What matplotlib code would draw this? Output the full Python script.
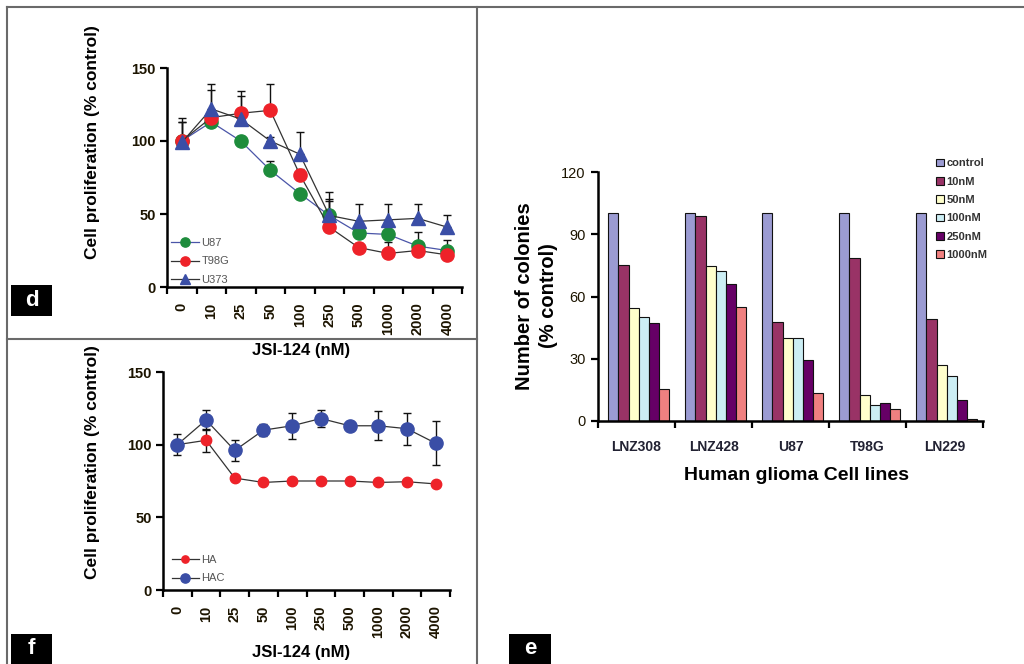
import matplotlib
matplotlib.use('Agg')
import matplotlib.pyplot as plt
from matplotlib.lines import Line2D
from matplotlib.patches import Rectangle
import numpy as np

plt.rcParams['font.family'] = ['Liberation Sans', 'DejaVu Sans']

# ---------------- data ----------------
conc = ['0', '10', '25', '50', '100', '250', '500', '1000', '2000', '4000']

u87 = [100, 113, 100, 80, 64, 49, 37, 36, 28, 25]
u87_err = [13, 3, 3, 6, 3, 11, 4, 4, 10, 7]
t98g = [100, 116, 119, 121, 77, 41, 27, 23, 25, 22]
t98g_err = [16, 19, 12, 18, 4, 18, 3, 8, 4, 4]
u373 = [99, 122, 115, 100, 91, 49, 45, 46, 47, 41]
u373_err = [14, 17, 19, 3, 15, 16, 12, 11, 10, 8]

ha = [100, 103, 77, 74, 75, 75, 75, 74, 74.5, 73]
ha_err = [0, 8, 0, 0, 0, 0, 0, 0, 0, 0]
hac = [100, 117, 96, 110, 113, 118, 113, 113, 111, 101]
hac_err = [7, 7, 7, 4, 9, 6, 1, 10, 11, 15]

cell_lines = ['LNZ308', 'LNZ428', 'U87', 'T98G', 'LN229']
dose_labels = ['control', '10nM', '50nM', '100nM', '250nM', '1000nM']
col_control = [100, 100, 100, 100, 100]
col_10 = [75, 99, 47.5, 78.5, 49]
col_50 = [54.5, 74.5, 40, 12.5, 27]
col_100 = [50, 72.5, 40, 7.5, 21.5]
col_250 = [47, 66, 29.5, 8.5, 10]
col_1000 = [15.5, 55, 13.5, 6, 1]
dose_colors = ['#9b9bd2', '#993366', '#ffffcc', '#cceef4', '#660066', '#f08080']

W, H = 1024, 664
fig = plt.figure(figsize=(W / 100, H / 100), dpi=100)
fig.patch.set_facecolor('white')

def ax_rect(l, r, t, b):
    return [l / W, 1 - b / H, (r - l) / W, (b - t) / H]

TICKC = '#1c1400'

def style_cat_axis(ax, n, labels, ylim, yticks, xpad):
    ax.set_xlim(-0.5, n - 0.5)
    ax.set_ylim(*ylim)
    ax.set_yticks(yticks)
    ax.set_xticks(np.arange(n))
    ax.set_xticks(np.arange(n + 1) - 0.5, minor=True)
    ax.spines['top'].set_visible(False)
    ax.spines['right'].set_visible(False)
    for s in ['left', 'bottom']:
        ax.spines[s].set_linewidth(1.8)
        ax.spines[s].set_color('black')
    ax.tick_params(axis='x', which='major', length=0, pad=xpad)
    ax.tick_params(axis='x', which='minor', length=5, width=1.6, direction='out')
    ax.tick_params(axis='y', length=5, width=1.6, direction='out', pad=3)

# ---------------- panel d ----------------
axd = fig.add_axes(ax_rect(167, 462, 68, 287))
x = np.arange(len(conc))
style_cat_axis(axd, len(conc), conc, (0, 150), [0, 50, 100, 150], 11)
axd.set_xticklabels(conc, rotation=90, fontsize=10.5, fontweight='bold', color=TICKC)
for lab in axd.get_yticklabels():
    lab.set_fontsize(10.5); lab.set_fontweight('bold'); lab.set_color(TICKC)

zeros = np.zeros(len(conc))
for y, e in [(u87, u87_err), (t98g, t98g_err), (u373, u373_err)]:
    axd.errorbar(x, y, yerr=[zeros, e], fmt='none', ecolor='#111111',
                 elinewidth=1.0, capsize=3, capthick=1.0, zorder=2)
axd.plot(x, u87, color='#4a55a8', lw=0.9, marker='o', ms=9.5, mfc='#1e8c3c',
         mec='#1e8c3c', label='U87', zorder=3)
axd.plot(x, t98g, color='#333333', lw=0.9, marker='o', ms=9.5, mfc='#ee2229',
         mec='#ee2229', label='T98G', zorder=4)
axd.plot(x, u373, color='#333333', lw=0.9, marker='^', ms=10, mfc='#3a4ea6',
         mec='#3a4ea6', label='U373', zorder=5)
legd = axd.legend(loc='lower left', bbox_to_anchor=(0.015, 0.01), frameon=False,
                  fontsize=8, handlelength=2.5, handletextpad=0.2, labelspacing=0.75,
                  borderaxespad=0, borderpad=0, markerscale=0.7, numpoints=1)
for t in legd.get_texts():
    t.set_color('#555555')

fig.text(93 / W, 1 - 142 / H, 'Cell proliferation (% control)', rotation=90,
         ha='center', va='center', fontsize=12.5, fontweight='bold')
fig.text(301 / W, 1 - 351 / H, 'JSI-124 (nM)', ha='center', va='center',
         fontsize=12, fontweight='bold')

# ---------------- panel f ----------------
axf = fig.add_axes(ax_rect(163, 450, 372, 590))
style_cat_axis(axf, len(conc), conc, (0, 150), [0, 50, 100, 150], 11)
axf.set_xticklabels(conc, rotation=90, fontsize=10.5, fontweight='bold', color=TICKC)
for lab in axf.get_yticklabels():
    lab.set_fontsize(10.5); lab.set_fontweight('bold'); lab.set_color(TICKC)
axf.errorbar(x, ha, yerr=ha_err, fmt='none', ecolor='#111111', elinewidth=1.0,
             capsize=3, capthick=1.0, zorder=2)
axf.errorbar(x, hac, yerr=hac_err, fmt='none', ecolor='#111111', elinewidth=1.0,
             capsize=3, capthick=1.0, zorder=2)
axf.plot(x, ha, color='#333333', lw=0.9, marker='o', ms=7.5, mfc='#ee2229',
         mec='#ee2229', label='HA', zorder=3)
axf.plot(x, hac, color='#333333', lw=0.9, marker='o', ms=9.5, mfc='#3a4ea6',
         mec='#3a4ea6', label='HAC', zorder=4)
legf = axf.legend(loc='lower left', bbox_to_anchor=(0.03, 0.03), frameon=False,
                  fontsize=8, handlelength=2.5, handletextpad=0.2, labelspacing=0.75,
                  borderaxespad=0, borderpad=0, markerscale=0.7, numpoints=1)
for t in legf.get_texts():
    t.set_color('#555555')

fig.text(93 / W, 1 - 462 / H, 'Cell proliferation (% control)', rotation=90,
         ha='center', va='center', fontsize=12.5, fontweight='bold')
fig.text(301 / W, 1 - 653 / H, 'JSI-124 (nM)', ha='center', va='center',
         fontsize=12, fontweight='bold')

# ---------------- panel e ----------------
axe = fig.add_axes(ax_rect(598, 983, 172, 421))
style_cat_axis(axe, len(cell_lines), cell_lines, (0, 120), [0, 30, 60, 90, 120], 14)
axe.set_xticklabels(cell_lines, fontsize=10, fontweight='bold', color='#222233')
for lab in axe.get_yticklabels():
    lab.set_fontsize(10.5); lab.set_color(TICKC)
axe.tick_params(axis='y', pad=4)
series = [col_control, col_10, col_50, col_100, col_250, col_1000]
bw = 0.132
xc = np.arange(len(cell_lines))
for i, (vals, lab, c) in enumerate(zip(series, dose_labels, dose_colors)):
    axe.bar(xc + 0.03 + (i - 2.5) * bw, vals, width=bw, color=c, edgecolor='#111111',
            linewidth=0.8, label=lab, zorder=2)
lege = axe.legend(loc='upper left', bbox_to_anchor=(338 / 385, 1.055), frameon=False,
                  fontsize=8, handlelength=0.7, handleheight=0.7, handletextpad=0.25,
                  labelspacing=0.75, borderaxespad=0, borderpad=0)
for t in lege.get_texts():
    t.set_fontweight('bold'); t.set_color('#333333')
for p in lege.get_patches():
    p.set_linewidth(0.8)

fig.text(525 / W, 1 - 296 / H, 'Number of colonies', rotation=90, ha='center',
         va='center', fontsize=14.5, fontweight='bold')
fig.text(548 / W, 1 - 296 / H, '(% control)', rotation=90, ha='center',
         va='center', fontsize=14.5, fontweight='bold')
fig.text(796 / W, 1 - 475 / H, 'Human glioma Cell lines', ha='center', va='center',
         fontsize=14, fontweight='bold')

# ---------------- frame lines ----------------
LC = '#6a6a6a'
def fline(x0, y0, x1, y1):
    fig.add_artist(Line2D([x0 / W, x1 / W], [1 - y0 / H, 1 - y1 / H], color=LC,
                          lw=1.5, transform=fig.transFigure))
fline(7, 7, 1024, 7)
fline(7, 7, 7, 664)
fline(477, 7, 477, 664)
fline(7, 339, 477, 339)

# ---------------- panel letters ----------------
def letter(l, t, r, b, s):
    fig.add_artist(Rectangle((l / W, 1 - b / H), (r - l) / W, (b - t) / H,
                             facecolor='black', edgecolor='none',
                             transform=fig.transFigure))
    fig.text((l + r) / 2 / W, 1 - (t + b) / 2 / H, s, color='white', ha='center',
             va='center', fontsize=16, fontweight='bold')
letter(11, 285, 52, 316, 'd')
letter(11, 634, 52, 664, 'f')
letter(509, 634, 551, 664, 'e')

fig.savefig('out.png', dpi=100)
